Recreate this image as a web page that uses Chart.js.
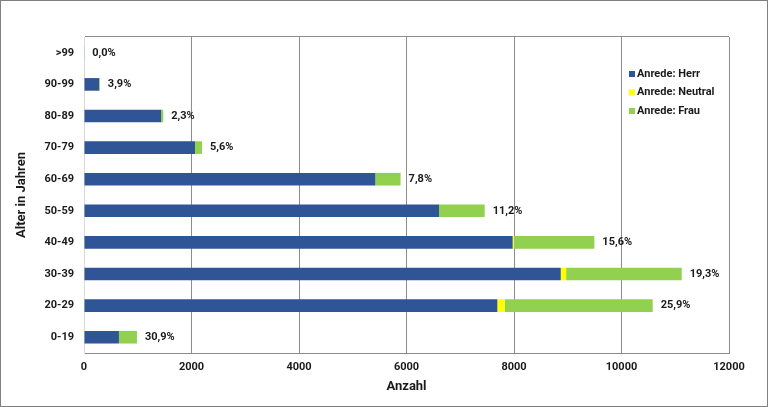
<!DOCTYPE html>
<html>
<head>
<meta charset="utf-8">
<script src="https://cdn.jsdelivr.net/npm/chart.js@4"></script>
<style>
  html, body { margin: 0; padding: 0; background: #fff; }
  #wrap { width: 768px; height: 407px; position: relative; }
</style>
</head>
<body>
<div id="wrap"><canvas id="age-chart"></canvas></div>
<script>
// categories, top to bottom
const ageGroups = ['>99', '90-99', '80-89', '70-79', '60-69', '50-59', '40-49', '30-39', '20-29', '0-19'];

// counts per salutation
const herrValues    = [0, 280, 1435, 2065, 5420, 6605, 7975, 8870, 7690, 650];
const neutralValues = [0, 0, 0, 0, 0, 0, 20, 100, 140, 0];
const frauValues    = [5, 15, 40, 130, 470, 850, 1500, 2150, 2750, 335];

// percentage labels at the end of each bar
const pctLabels = ['0,0%', '3,9%', '2,3%', '5,6%', '7,8%', '11,2%', '15,6%', '19,3%', '25,9%', '30,9%'];

const xTicks = [0, 2000, 4000, 6000, 8000, 10000, 12000];

const gridGray = '#8c8c8c';
const textColor = '#1a1a1a';
const fontFamily = 'Roboto, "Liberation Sans", sans-serif';

// frame round the whole picture
const framePlugin = {
    id: 'frame',
    afterDraw(chart) {
        const ctx = chart.ctx;
        ctx.save();
        ctx.strokeStyle = '#7f7f7f';
        ctx.lineWidth = 1;
        ctx.strokeRect(0.5, 0.5, chart.width - 1, chart.height - 1);
        ctx.restore();
    }
};

// percent text after every bar
const pctPlugin = {
    id: 'pctLabels',
    afterDatasetsDraw(chart) {
        const ctx = chart.ctx;
        const xs = chart.scales.x;
        const ys = chart.scales.y;
        ctx.save();
        ctx.font = 'bold 11px ' + fontFamily;
        ctx.fillStyle = textColor;
        ctx.textBaseline = 'middle';
        ctx.textAlign = 'left';
        pctLabels.forEach((txt, i) => {
            const total = herrValues[i] + neutralValues[i] + frauValues[i];
            ctx.fillText(txt, xs.getPixelForValue(total) + 8, ys.getPixelForValue(i));
        });
        ctx.restore();
    }
};

// legend drawn inside the plot, top right
const innerLegend = {
    id: 'innerLegend',
    afterDraw(chart) {
        const ctx = chart.ctx;
        const area = chart.chartArea;
        const x0 = area.right - 100;
        let y = area.top + 37;
        ctx.save();
        ctx.font = 'bold 11px ' + fontFamily;
        ctx.textBaseline = 'middle';
        chart.data.datasets.forEach(ds => {
            ctx.fillStyle = ds.backgroundColor;
            ctx.fillRect(x0, y - 3, 6, 6);
            ctx.fillStyle = textColor;
            ctx.fillText(ds.label, x0 + 8, y);
            y += 18.5;
        });
        ctx.restore();
    }
};

new Chart(document.getElementById('age-chart').getContext('2d'), {
    type: 'bar',
    data: {
        labels: ageGroups,
        datasets: [
            { label: 'Anrede: Herr', data: herrValues, backgroundColor: '#2F5597' },
            { label: 'Anrede: Neutral', data: neutralValues, backgroundColor: '#FFFF00' },
            { label: 'Anrede: Frau', data: frauValues, backgroundColor: '#92D050' }
        ]
    },
    options: {
        indexAxis: 'y',
        responsive: true,
        maintainAspectRatio: false,
        animation: false,
        datasets: {
            bar: { categoryPercentage: 1, barPercentage: 0.4 }
        },
        layout: { padding: { left: 14, right: 39, top: 37, bottom: 12 } },
        scales: {
            x: {
                stacked: true,
                min: 0,
                max: 12000,
                afterBuildTicks(scale) {
                    scale.ticks = xTicks.map(v => ({ value: v }));
                },
                afterFit(scale) { scale.height = 42; },
                ticks: {
                    color: textColor,
                    padding: 8,
                    callback: v => String(v),
                    font: { family: fontFamily, size: 11, weight: 'bold' }
                },
                grid: { color: gridGray, drawTicks: false },
                border: { color: gridGray },
                title: {
                    display: true,
                    text: 'Anzahl',
                    color: textColor,
                    padding: 0,
                    font: { family: fontFamily, size: 13, weight: 'bold' }
                }
            },
            y: {
                stacked: true,
                afterFit(scale) { scale.width = 70; },
                ticks: {
                    color: textColor,
                    padding: 10,
                    font: { family: fontFamily, size: 11, weight: 'bold' }
                },
                grid: {
                    drawTicks: false,
                    color: c => c.index === 0 ? gridGray : 'rgba(0,0,0,0)'
                },
                border: { color: '#d9d9d9' },
                title: {
                    display: true,
                    text: 'Alter in Jahren',
                    color: textColor,
                    padding: 0,
                    font: { family: fontFamily, size: 13, weight: 'bold' }
                }
            }
        },
        plugins: {
            legend: { display: false },
            tooltip: { enabled: false }
        }
    },
    plugins: [pctPlugin, innerLegend, framePlugin]
});
</script>
</body>
</html>
